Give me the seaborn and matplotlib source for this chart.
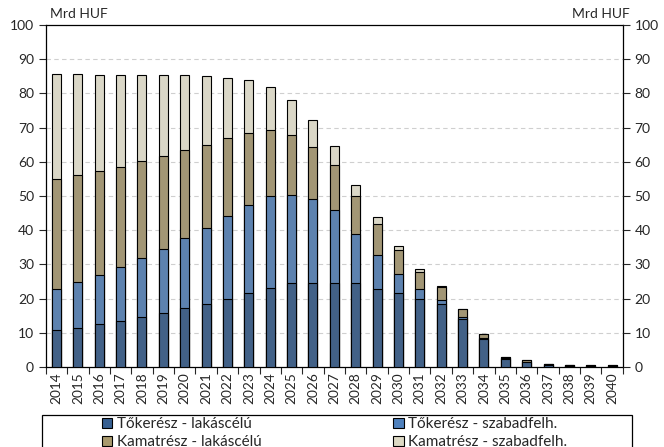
import numpy as np
import pandas as pd
import seaborn as sns
import matplotlib.pyplot as plt
from matplotlib.patches import Patch, Rectangle

# Data (Mrd HUF)
years = [str(y) for y in range(2014, 2041)]
toke_lakas = [10.8, 11.4, 12.5, 13.5, 14.6, 15.8, 17.2, 18.5, 20.0, 21.7, 23.1, 24.6, 24.6, 24.6,
              24.6, 22.9, 21.7, 20.0, 18.4, 13.9, 8.1, 2.3, 1.5, 0.7, 0.4, 0.35, 0.35]
toke_szabad = [12.1, 13.5, 14.5, 15.8, 17.3, 18.8, 20.4, 22.2, 24.2, 25.8, 26.9, 25.7, 24.5, 21.4,
               14.4, 9.9, 5.4, 2.9, 1.3, 0.6, 0.3, 0.2, 0.1, 0.05, 0.05, 0.05, 0.05]
kamat_lakas = [32.2, 31.2, 30.3, 29.3, 28.2, 27.1, 25.9, 24.3, 22.8, 20.9, 19.2, 17.5, 15.1, 13.2,
               11.0, 9.1, 7.2, 5.0, 3.7, 2.5, 1.2, 0.4, 0.3, 0.2, 0.1, 0.05, 0.05]
kamat_szabad = [30.5, 29.5, 28.1, 26.8, 25.3, 23.6, 21.8, 20.1, 17.6, 15.6, 12.8, 10.3, 8.0, 5.4,
                3.3, 1.9, 1.1, 0.8, 0.3, 0.1, 0.1, 0.1, 0.1, 0.05, 0.05, 0.05, 0.05]

labels = ["Tőkerész - lakáscélú", "Tőkerész - szabadfelh.",
          "Kamatrész - lakáscélú", "Kamatrész - szabadfelh."]
colors = ["#376092", "#4F81BD", "#A99A6E", "#DDD9C4"]

df = pd.DataFrame({"year": years, labels[0]: toke_lakas, labels[1]: toke_szabad,
                   labels[2]: kamat_lakas, labels[3]: kamat_szabad})
cum = df[labels].cumsum(axis=1)

sns.set_style("white")
plt.rcParams["font.family"] = ["Lato", "DejaVu Sans"]

fig = plt.figure(figsize=(6.64, 4.47), dpi=100)
ax = fig.add_axes([0.069, 0.179, 0.869, 0.765])

# stacked bars: draw cumulative totals from top layer down
for lab, col in zip(labels[::-1], colors[::-1]):
    sns.barplot(x=df["year"], y=cum[lab], color=col, width=0.42,
                edgecolor="black", linewidth=0.8, ax=ax, zorder=3)

ax.set_ylim(0, 100)
ax.set_xlim(-0.5, len(years) - 0.5)
ax.set_yticks(range(0, 101, 10))
ax.tick_params(axis="y", labelsize=10, length=5, width=0.8, direction="out", left=True)
ax.set_xlabel("")
ax.set_ylabel("")
for g in range(10, 100, 10):
    ax.axhline(g, color="#CFCFCF", linestyle=(0, (4, 3)), linewidth=0.8, zorder=0)

# x ticks between categories
ax.set_xticks(range(len(years)))
ax.set_xticklabels(years, rotation=90, fontsize=9.8)
ax.tick_params(axis="x", length=0, pad=4)
ax.set_xticks(np.arange(-0.5, len(years), 1), minor=True)
ax.tick_params(axis="x", which="minor", length=5, width=0.8, direction="out", bottom=True)

for side in ["left", "right", "bottom", "top"]:
    ax.spines[side].set_visible(True)
    ax.spines[side].set_color("black")
    ax.spines[side].set_linewidth(0.9)

ax2 = ax.twinx()
ax2.set_ylim(0, 100)
ax2.set_yticks(range(0, 101, 10))
ax2.tick_params(axis="y", labelsize=10, length=5, width=0.8, direction="out", right=True)
for side in ["left", "right", "bottom", "top"]:
    ax2.spines[side].set_visible(False)

fig.text(0.075, 0.955, "Mrd HUF", fontsize=10, ha="left", va="bottom")
fig.text(0.948, 0.955, "Mrd HUF", fontsize=10, ha="right", va="bottom")

# legend below the plot, framed box running off the bottom edge
handles = [Patch(facecolor=c, edgecolor="black", linewidth=0.8) for c in colors]
order = [0, 2, 1, 3]
fig.legend([handles[i] for i in order], [labels[i] for i in order], ncol=2,
           loc="upper left", bbox_to_anchor=(0.153, 0.066), frameon=False,
           fontsize=11, handlelength=0.7, handleheight=0.7, handletextpad=0.3,
           columnspacing=8.6, labelspacing=0.25, borderpad=0, borderaxespad=0)
fig.patches.append(Rectangle((42 / 664, -0.05), 590 / 664, 0.05 + 32 / 447,
                             transform=fig.transFigure, fill=False,
                             edgecolor="black", linewidth=0.9))

fig.savefig("out.png", dpi=100)
